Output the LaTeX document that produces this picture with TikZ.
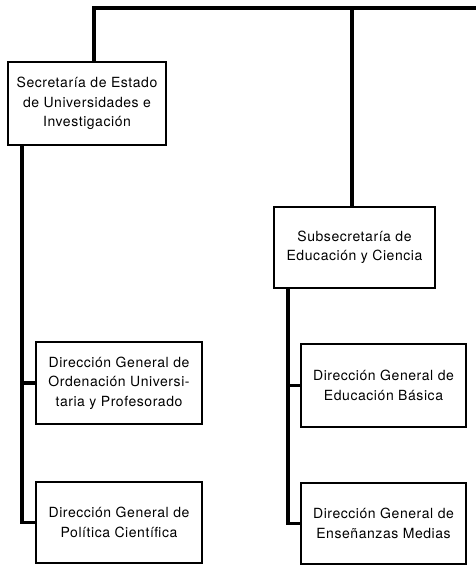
\documentclass[tikz,border=0pt]{standalone}
\usepackage{fontspec}
\setmainfont[LetterSpace=4]{TeX Gyre Heros}
\begin{document}
\begin{tikzpicture}[x=1pt,y=-1pt,
  box/.style={draw, line width=1.6pt, fill=white, align=center, inner sep=0pt,
    font=\fontsize{14}{19.5}\selectfont},
  conn/.style={line width=3.8pt, line cap=rect}]
\useasboundingbox (0,0) rectangle (476,566);
\node[box, minimum width=158pt, minimum height=83pt] (sec) at (87,103.5)
  {Secretaría de Estado\\de Universidades e\\Investigación};
\node[box, minimum width=166pt, minimum height=82pt] (dgou) at (119,383)
  {Dirección General de\\Ordenación Universi-\\taria y Profesorado};
\node[box, minimum width=166pt, minimum height=81pt] (dgpc) at (119,522.5)
  {Dirección General de\\Política Científica};
\node[box, minimum width=161pt, minimum height=81pt] (sub) at (354.5,247.5)
  {Subsecretaría de\\Educación y Ciencia};
\node[box, minimum width=165pt, minimum height=83pt] (dgeb) at (383.5,385.5)
  {Dirección General de\\Educación Básica};
\node[box, minimum width=165pt, minimum height=81pt] (dgem) at (383.5,523.5)
  {Dirección General de\\Enseñanzas Medias};
\coordinate (tl) at (94,8);
\coordinate (tr) at (480,8);
\coordinate (tm) at (352,8);
\coordinate (ls) at (22,0);
\coordinate (rs) at (288,0);
\draw[conn] (tl |- sec.north) -- (tl) -- (tr);
\draw[conn] (tm) -- (tm |- sub.north);
\draw[conn] (ls |- sec.south) |- (dgpc.west);
\draw[conn] (ls |- dgou.west) -- (dgou.west);
\draw[conn] (rs |- sub.south) |- (dgem.west);
\draw[conn] (rs |- dgeb.west) -- (dgeb.west);
\end{tikzpicture}
\end{document}
